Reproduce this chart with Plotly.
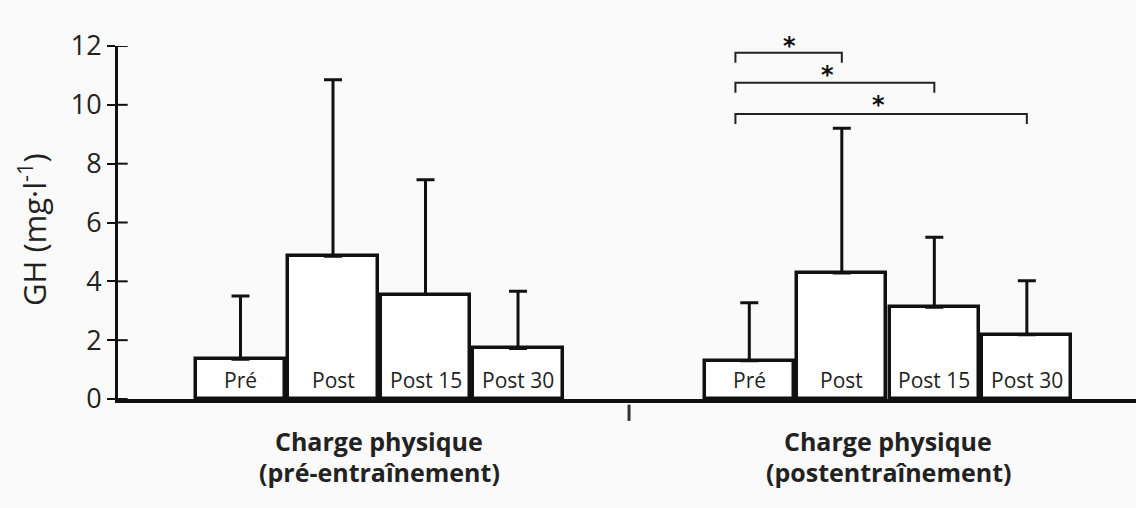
import plotly.graph_objects as go

# ---------------- data ----------------
conditions = ["Pré", "Post", "Post 15", "Post 30"]
group_line1 = ["Charge physique", "Charge physique"]
group_line2 = ["(pré-entraînement)", "(postentraînement)"]
gh_pre_training = [1.35, 4.85, 3.55, 1.72]
gh_pre_training_top = [3.5, 10.85, 7.45, 3.66]
gh_post_training = [1.3, 4.28, 3.12, 2.18]
gh_post_training_top = [3.27, 9.2, 5.5, 4.02]
y_ticks = [0, 2, 4, 6, 8, 10, 12]

# significance brackets (post-training group): Pré vs Post, Post 15, Post 30
bracket_start = 5.35
bracket_ends = [6.5, 7.5, 8.5]
bracket_levels = [11.77, 10.75, 9.69]
star_x = [5.93, 6.35, 6.9]
star_levels = [12.18, 11.19, 10.17]

# ---------------- layout helpers ----------------
Y_MAX = 12
pos_g1 = [0, 1, 2, 3]
pos_g2 = [5.5, 6.5, 7.5, 8.5]
x_pos = pos_g1 + pos_g2
means = gh_pre_training + gh_post_training
tops = gh_pre_training_top + gh_post_training_top
err_up = [t - m for t, m in zip(tops, means)]

INK = "#111111"
TXT = "#222222"
BG = "#fafafa"

fig = go.Figure()
fig.add_trace(go.Bar(
    x=x_pos, y=means, width=0.965,
    marker=dict(color="white", line=dict(color=INK, width=3.5)),
    error_y=dict(type="data", symmetric=False, array=err_up,
                 arrayminus=[0] * len(err_up), color=INK, thickness=3, width=9),
    showlegend=False, hoverinfo="skip",
))

annotations = []
# labels inside bars
for xp, lab in zip(x_pos, conditions + conditions):
    annotations.append(dict(x=xp, y=0, xref="x", yref="y", text=lab, showarrow=False,
                            yanchor="bottom", yshift=3,
                            font=dict(family="Open Sans", size=21, color=TXT)))
# group labels (two lines each)
for xc, l1, l2 in zip([sum(pos_g1) / 4, sum(pos_g2) / 4], group_line1, group_line2):
    annotations.append(dict(x=xc, y=-0.119, xref="x", yref="paper", text="<b>" + l1 + "</b>",
                            showarrow=False, yanchor="middle",
                            font=dict(family="Open Sans", size=25, color=TXT)))
    annotations.append(dict(x=xc, y=-0.207, xref="x", yref="paper", text="<b>" + l2 + "</b>",
                            showarrow=False, yanchor="middle",
                            font=dict(family="Open Sans", size=25, color=TXT)))
# y title
annotations.append(dict(x=-0.084, y=0.48, xref="paper", yref="paper",
                        text="GH\u00a0(mg·l<sup>-1</sup>)", textangle=-90, showarrow=False,
                        xanchor="center", yanchor="middle",
                        font=dict(family="Open Sans", size=31, color=TXT)))
# stars
for sx, sy in zip(star_x, star_levels):
    annotations.append(dict(x=sx, y=sy / Y_MAX, xref="x", yref="paper", text="<b>*</b>",
                            showarrow=False, yanchor="middle", yshift=-5,
                            font=dict(family="DejaVu Sans", size=24, color=INK)))

shapes = []
# brackets
for xe, lv in zip(bracket_ends, bracket_levels):
    shapes.append(dict(type="path", xref="x", yref="y",
                       path=f"M {bracket_start},{lv - 0.34} L {bracket_start},{lv} L {xe},{lv} L {xe},{lv - 0.34}",
                       line=dict(color="#222222", width=2)))
# inner halves of y ticks
for t in y_ticks:
    shapes.append(dict(type="line", xref="paper", yref="y", x0=0, x1=0.0095, y0=t, y1=t,
                       line=dict(color=INK, width=2)))
# small separator tick under the baseline
shapes.append(dict(type="line", xref="x", yref="paper", x0=4.2, x1=4.2, y0=-0.016, y1=-0.062,
                   line=dict(color="#333333", width=3)))

fig.update_layout(
    width=1136, height=508,
    margin=dict(l=118, r=0, t=46, b=109),
    paper_bgcolor=BG, plot_bgcolor=BG,
    bargap=0,
    xaxis=dict(range=[-1.324, 9.68], showgrid=False, zeroline=False, showticklabels=False,
               ticks="", showline=True, linecolor=INK, linewidth=4),
    yaxis=dict(range=[0, Y_MAX], tickvals=y_ticks, showgrid=False, zeroline=False,
               ticks="outside", ticklen=8, tickwidth=2, tickcolor=INK,
               showline=True, linecolor=INK, linewidth=3,
               tickfont=dict(family="Open Sans", size=27, color=TXT)),
    annotations=annotations,
    shapes=shapes,
)

fig.write_html("out.html")
